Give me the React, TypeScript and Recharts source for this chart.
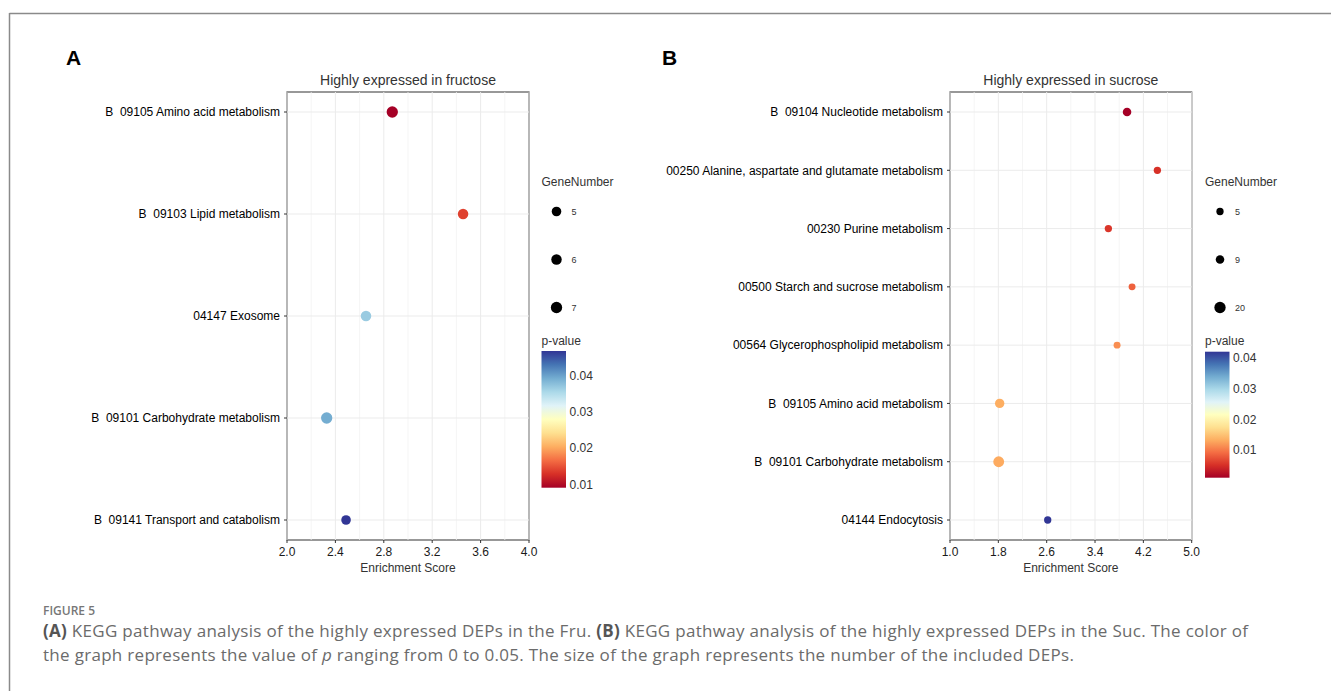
import { ScatterChart, Scatter, XAxis, YAxis, ReferenceLine, ReferenceArea } from "recharts";

// ---- panel A: highly expressed in fructose (top to bottom) ----
const FRU_TERMS = [
  "B\u00a0\u00a009105 Amino acid metabolism",
  "B\u00a0\u00a009103 Lipid metabolism",
  "04147 Exosome",
  "B\u00a0\u00a009101 Carbohydrate metabolism",
  "B\u00a0\u00a009141 Transport and catabolism",
];
const FRU_SCORE = [2.87, 3.455, 2.653, 2.328, 2.488];
const FRU_GENES = [7, 6, 6, 7, 5];
const FRU_PVALUE = [0.0092, 0.014, 0.0367, 0.0393, 0.0468];
const FRU_TICKS = [2.0, 2.4, 2.8, 3.2, 3.6, 4.0];
const FRU_SIZE_BREAKS = [5, 6, 7];
const FRU_P_BREAKS = [0.01, 0.02, 0.03, 0.04];

// ---- panel B: highly expressed in sucrose (top to bottom) ----
const SUC_TERMS = [
  "B\u00a0\u00a009104 Nucleotide metabolism",
  "00250 Alanine, aspartate and glutamate metabolism",
  "00230 Purine metabolism",
  "00500 Starch and sucrose metabolism",
  "00564 Glycerophospholipid metabolism",
  "B\u00a0\u00a009105 Amino acid metabolism",
  "B\u00a0\u00a009101 Carbohydrate metabolism",
  "04144 Endocytosis",
];
const SUC_SCORE = [3.93, 4.432, 3.621, 4.013, 3.765, 1.822, 1.806, 2.617];
const SUC_GENES = [9, 5, 5, 4, 4, 12, 18, 5];
const SUC_PVALUE = [0.001, 0.0051, 0.0055, 0.0084, 0.0113, 0.0134, 0.0132, 0.0422];
const SUC_TICKS = [1.0, 1.8, 2.6, 3.4, 4.2, 5.0];
const SUC_SIZE_BREAKS = [5, 9, 20];
const SUC_P_BREAKS = [0.01, 0.02, 0.03, 0.04];

const RDYLBU = [
  "#a50026", "#d73027", "#f46d43", "#fdae61", "#fee090", "#ffffbf",
  "#e0f3f8", "#abd9e9", "#74add1", "#4575b4", "#313695",
];

const FONT = "'Liberation Sans', Arial, sans-serif";
const TOP = 92;
const BOTTOM = 540;
const CHART_H = 600;
const EDGE_PX = 20;

function hexToRgb(h: string) {
  return [1, 3, 5].map((i) => parseInt(h.slice(i, i + 2), 16));
}

function paletteColor(t: number) {
  const c = Math.max(0, Math.min(1, t)) * (RDYLBU.length - 1);
  const i = Math.min(Math.floor(c), RDYLBU.length - 2);
  const f = c - i;
  const a = hexToRgb(RDYLBU[i]);
  const b = hexToRgb(RDYLBU[i + 1]);
  const m = a.map((v, k) => Math.round(v + (b[k] - v) * f));
  return `rgb(${m[0]},${m[1]},${m[2]})`;
}

interface PanelProps {
  letter: string;
  title: string;
  terms: string[];
  scores: number[];
  genes: number[];
  pvals: number[];
  xTicks: number[];
  sizeBreaks: number[];
  pBreaks: number[];
  // layout
  chartLeft: number;
  chartWidth: number;
  plotLeft: number;
  plotRight: number;
  letterX: number;
  legendX: number;
  barTop: number;
  barBottom: number;
  rMin: number;
  rMax: number;
}

function Panel(p: PanelProps) {
  const n = p.terms.length;
  const pMin = Math.min(...p.pvals);
  const pMax = Math.max(...p.pvals);
  const gLo = p.sizeBreaks[0];
  const gHi = p.sizeBreaks[p.sizeBreaks.length - 1];
  const radius = (g: number) =>
    Math.sqrt(p.rMin * p.rMin + ((g - gLo) / (gHi - gLo)) * (p.rMax * p.rMax - p.rMin * p.rMin));
  const color = (v: number) => paletteColor((v - pMin) / (pMax - pMin));

  const data = p.terms.map((term, i) => ({
    term,
    y: n - i,
    x: p.scores[i],
    gene: p.genes[i],
    pv: p.pvals[i],
  }));

  const pad = (EDGE_PX * (n - 1)) / (BOTTOM - TOP - 2 * EDGE_PX);
  const yDomain = [1 - pad, n + pad];
  const yTicks = data.map((d) => d.y);
  const xMin = p.xTicks[0];
  const xMax = p.xTicks[p.xTicks.length - 1];
  const minor = p.xTicks.slice(1).map((t, i) => (t + p.xTicks[i]) / 2);

  const yAxisW = p.plotLeft - p.chartLeft;
  const rightM = p.chartLeft + p.chartWidth - p.plotRight;
  const cx = (p.plotLeft + p.plotRight) / 2;
  const barH = p.barBottom - p.barTop;
  const gradId = `grad-${p.letter}`;

  const renderYTick = (t: any) => (
    <text
      x={t.x}
      y={t.y}
      dy="0.36em"
      textAnchor="end"
      fontSize={12}
      fill="#000"
      fontFamily={FONT}
    >
      {p.terms[n - Math.round(t.payload.value)]}
    </text>
  );

  return (
    <>
      <div style={{ position: "absolute", left: p.chartLeft, top: 0 }}>
        <ScatterChart
          width={p.chartWidth}
          height={CHART_H}
          margin={{ top: TOP, right: rightM, bottom: CHART_H - BOTTOM - 30, left: 0 }}
        >
          <XAxis
            type="number"
            dataKey="x"
            domain={[xMin, xMax]}
            ticks={p.xTicks}
            tickFormatter={(v: number) => v.toFixed(1)}
            height={30}
            axisLine={false}
            tickSize={3}
            tickMargin={4}
            tick={{ fontSize: 12, fill: "#1a1a1a", fontFamily: FONT }}
            tickLine={{ stroke: "#333" }}
          />
          <YAxis
            type="number"
            dataKey="y"
            domain={yDomain}
            ticks={yTicks}
            interval={0}
            width={yAxisW}
            axisLine={false}
            tickSize={3}
            tickMargin={4}
            tick={renderYTick}
            tickLine={{ stroke: "#333" }}
          />
          {minor.map((v) => (
            <ReferenceLine key={`mn${v}`} x={v} stroke="#f3f3f3" strokeWidth={0.8} />
          ))}
          {p.xTicks.map((v) => (
            <ReferenceLine key={`mj${v}`} x={v} stroke="#ebebeb" strokeWidth={1} />
          ))}
          {yTicks.map((v) => (
            <ReferenceLine key={`h${v}`} y={v} stroke="#ebebeb" strokeWidth={1} />
          ))}
          <ReferenceArea
            x1={xMin}
            x2={xMax}
            y1={yDomain[0]}
            y2={yDomain[1]}
            fill="none"
            fillOpacity={0}
            stroke="#333"
            strokeWidth={1.2}
            ifOverflow="extendDomain"
          />
          <Scatter
            data={data}
            isAnimationActive={false}
            shape={(s: any) => (
              <circle cx={s.cx} cy={s.cy} r={radius(s.payload.gene)} fill={color(s.payload.pv)} />
            )}
          />
        </ScatterChart>
      </div>
      <svg
        width={1331}
        height={691}
        style={{ position: "absolute", left: 0, top: 0, pointerEvents: "none", fontFamily: FONT }}
      >
        <defs>
          <linearGradient id={gradId} x1="0" y1="1" x2="0" y2="0">
            {RDYLBU.map((c, i) => (
              <stop key={c} offset={i / (RDYLBU.length - 1)} stopColor={c} />
            ))}
          </linearGradient>
        </defs>
        <text x={p.letterX} y={65} fontSize={21} fontWeight="bold" fill="#000">
          {p.letter}
        </text>
        <text x={cx} y={80} fontSize={14} fill="#333" textAnchor="middle" dominantBaseline="central">
          {p.title}
        </text>
        <text x={cx} y={568} fontSize={12} fill="#333" textAnchor="middle" dominantBaseline="central">
          Enrichment Score
        </text>
        <text x={p.legendX} y={182} fontSize={12} fill="#333" dominantBaseline="central">
          GeneNumber
        </text>
        {p.sizeBreaks.map((g, i) => (
          <g key={g}>
            <circle cx={p.legendX + 15} cy={211.5 + i * 48} r={radius(g)} fill="#000" />
            <text x={p.legendX + 30} y={211.5 + i * 48} fontSize={9} fill="#333" dominantBaseline="central">
              {g}
            </text>
          </g>
        ))}
        <text x={p.legendX} y={341} fontSize={12} fill="#333" dominantBaseline="central">
          p-value
        </text>
        <rect x={p.legendX} y={p.barTop} width={24.5} height={barH} fill={`url(#${gradId})`} />
        {p.pBreaks.map((b) => (
          <text
            key={b}
            x={p.legendX + 28}
            y={p.barBottom - ((b - pMin) / (pMax - pMin)) * barH}
            fontSize={12}
            fill="#333"
            dominantBaseline="central"
          >
            {b.toFixed(2)}
          </text>
        ))}
      </svg>
    </>
  );
}

export default function App() {
  return (
    <div
      style={{
        position: "absolute",
        left: 0,
        top: 0,
        width: 1331,
        height: 691,
        background: "#fff",
        overflow: "hidden",
      }}
    >
      <Panel
        letter="A"
        title="Highly expressed in fructose"
        terms={FRU_TERMS}
        scores={FRU_SCORE}
        genes={FRU_GENES}
        pvals={FRU_PVALUE}
        xTicks={FRU_TICKS}
        sizeBreaks={FRU_SIZE_BREAKS}
        pBreaks={FRU_P_BREAKS}
        chartLeft={0}
        chartWidth={660}
        plotLeft={287}
        plotRight={529}
        letterX={66}
        legendX={541.5}
        barTop={351}
        barBottom={487.7}
        rMin={4.8}
        rMax={5.65}
      />
      <Panel
        letter="B"
        title="Highly expressed in sucrose"
        terms={SUC_TERMS}
        scores={SUC_SCORE}
        genes={SUC_GENES}
        pvals={SUC_PVALUE}
        xTicks={SUC_TICKS}
        sizeBreaks={SUC_SIZE_BREAKS}
        pBreaks={SUC_P_BREAKS}
        chartLeft={661}
        chartWidth={670}
        plotLeft={950}
        plotRight={1191.7}
        letterX={662}
        legendX={1205}
        barTop={351.7}
        barBottom={477.7}
        rMin={3.65}
        rMax={5.65}
      />
      <svg width={1331} height={691} style={{ position: "absolute", left: 0, top: 0, pointerEvents: "none" }}>
        <line x1={9.5} y1={13.5} x2={1331} y2={13.5} stroke="#8a8a8a" strokeWidth={1.5} />
        <line x1={9.5} y1={13} x2={9.5} y2={691} stroke="#8a8a8a" strokeWidth={1.5} />
      </svg>
      <div
        style={{
          position: "absolute",
          left: 43,
          top: 603,
          width: 1285,
          fontFamily: "'Open Sans', 'Noto Sans', sans-serif",
          color: "#6b6b6b",
        }}
      >
        <div style={{ fontSize: 12, fontWeight: 600, color: "#777", lineHeight: "16px" }}>FIGURE 5</div>
        <div style={{ fontSize: 17, lineHeight: "24px", letterSpacing: "0.3px", whiteSpace: "nowrap" }}>
          <b style={{ color: "#555" }}>(A)</b> KEGG pathway analysis of the highly expressed DEPs in the Fru.{" "}
          <b style={{ color: "#555" }}>(B)</b> KEGG pathway analysis of the highly expressed DEPs in the Suc. The
          color of
          <br />
          the graph represents the value of <i>p</i> ranging from 0 to 0.05. The size of the graph represents the
          number of the included DEPs.
        </div>
      </div>
    </div>
  );
}
